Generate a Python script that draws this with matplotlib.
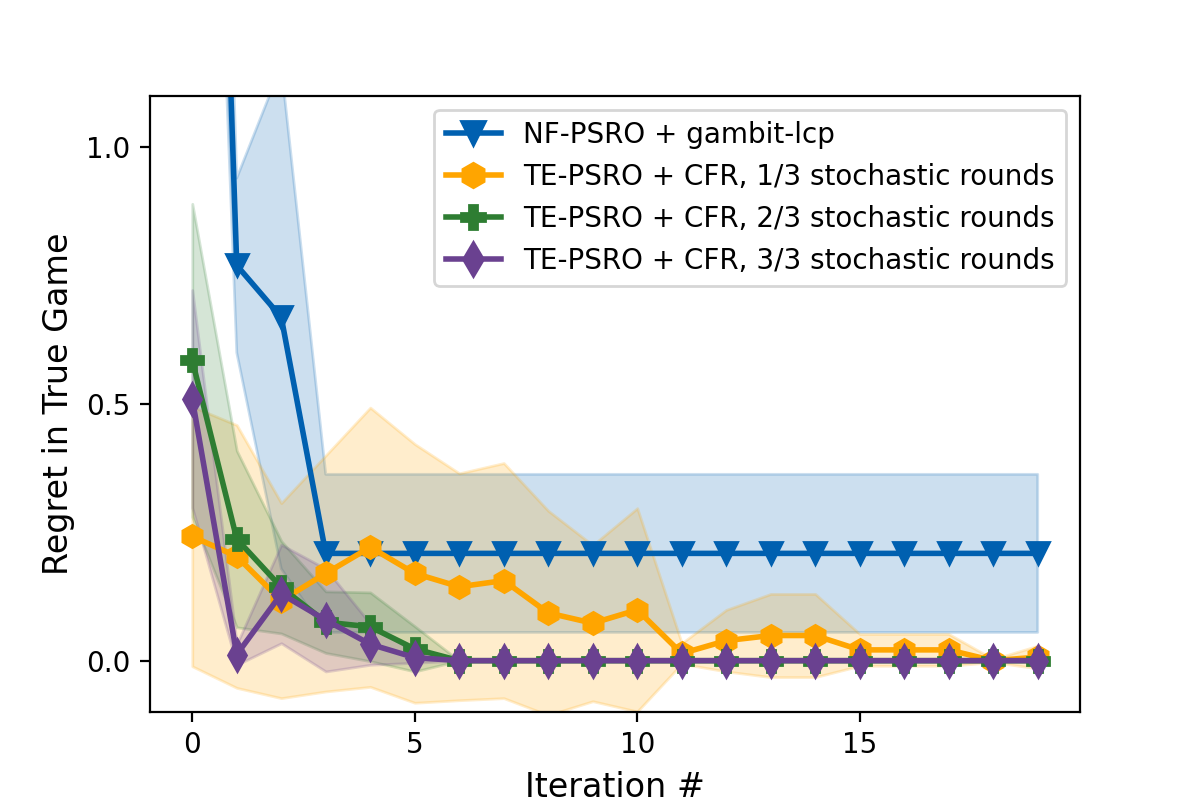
import numpy as np
import matplotlib
matplotlib.use('Agg')
import matplotlib.pyplot as plt

iters = np.arange(20)

# mean regret and spread for each method
nf_mean = [3.3, 0.77, 0.669, 0.209, 0.209, 0.209, 0.209, 0.209, 0.209, 0.209,
           0.209, 0.209, 0.209, 0.209, 0.209, 0.209, 0.209, 0.209, 0.209, 0.209]
nf_std = [0.45, 0.17, 0.49, 0.154, 0.154, 0.154, 0.154, 0.154, 0.154, 0.154,
          0.154, 0.154, 0.154, 0.154, 0.154, 0.154, 0.154, 0.154, 0.154, 0.154]

te1_mean = [0.242, 0.203, 0.117, 0.170, 0.221, 0.170, 0.144, 0.156, 0.093, 0.073,
            0.099, 0.014, 0.039, 0.049, 0.049, 0.021, 0.021, 0.021, 0.0, 0.007]
te1_std = [0.253, 0.256, 0.19, 0.23, 0.272, 0.252, 0.221, 0.229, 0.199, 0.152,
           0.198, 0.02, 0.06, 0.081, 0.081, 0.031, 0.031, 0.031, 0.003, 0.022]

te2_mean = [0.585, 0.237, 0.143, 0.075, 0.066, 0.023, 0, 0, 0, 0,
            0, 0, 0, 0, 0, 0, 0, 0, 0, 0]
te2_std = [0.305, 0.172, 0.09, 0.06, 0.067, 0.044, 0, 0, 0, 0,
           0, 0, 0, 0, 0, 0, 0, 0, 0, 0]

te3_mean = [0.510, 0.012, 0.130, 0.079, 0.032, 0.006, 0, 0, 0, 0,
            0, 0, 0, 0, 0, 0, 0, 0, 0, 0]
te3_std = [0.212, 0.02, 0.096, 0.1, 0.04, 0.01, 0, 0, 0, 0,
           0, 0, 0, 0, 0, 0, 0, 0, 0, 0]

labels = ['NF-PSRO + gambit-lcp',
          'TE-PSRO + CFR, 1/3 stochastic rounds',
          'TE-PSRO + CFR, 2/3 stochastic rounds',
          'TE-PSRO + CFR, 3/3 stochastic rounds']
colors = ['#0060b0', '#ffa500', '#2e7d32', '#6a4190']
markers = ['v', 'h', 'P', 'd']

fig, ax = plt.subplots(figsize=(6, 4), dpi=200)

series = [(nf_mean, nf_std), (te1_mean, te1_std), (te2_mean, te2_std), (te3_mean, te3_std)]
for (m, s), lab, c, mk in zip(series, labels, colors, markers):
    m = np.array(m)
    s = np.array(s)
    ax.plot(iters, m, color=c, marker=mk, markersize=8, linewidth=2, label=lab)
    ax.fill_between(iters, m - s, m + s, color=c, alpha=0.2)

ax.set_ylim(-0.1, 1.1)
ax.set_xticks([0, 5, 10, 15])
ax.set_yticks([0.0, 0.5, 1.0])
ax.set_xlabel('Iteration #', fontsize=12)
ax.set_ylabel('Regret in True Game', fontsize=12)
ax.legend(loc='upper right', fontsize=10, markerscale=1.1)

plt.savefig('out.png')
